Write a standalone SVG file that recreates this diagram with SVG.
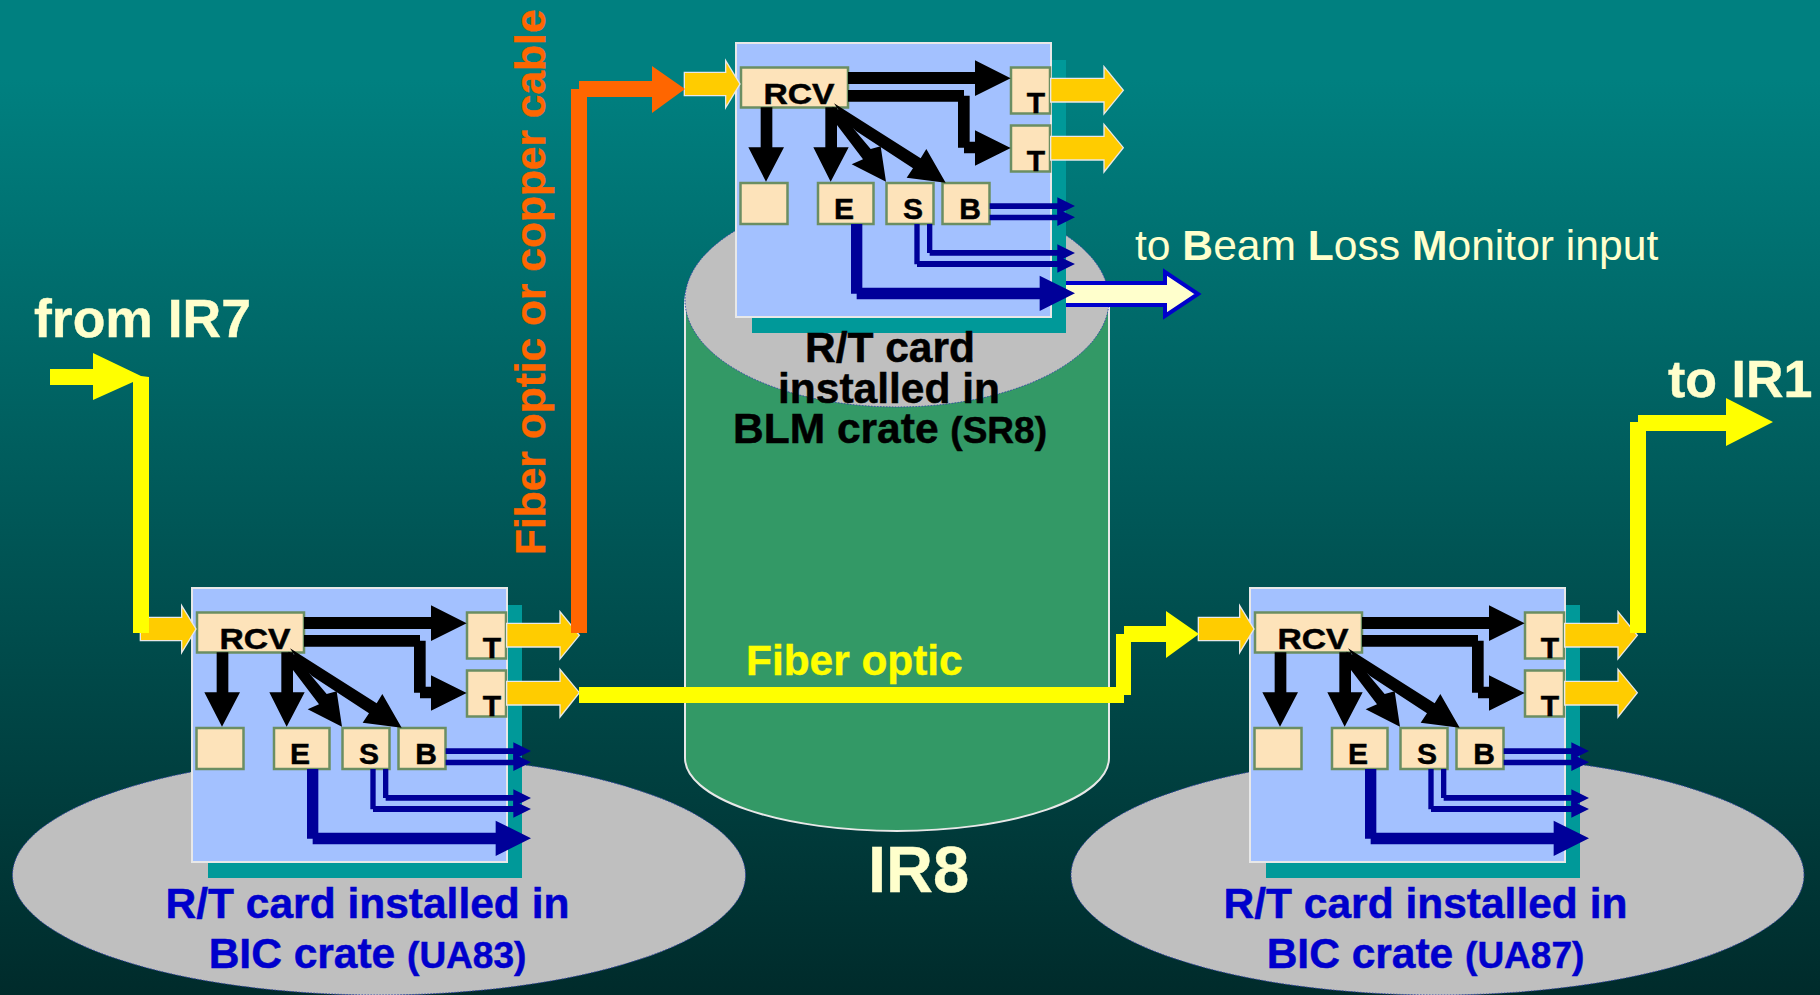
<svg xmlns="http://www.w3.org/2000/svg" width="1820" height="995" viewBox="0 0 1820 995">
<style>
text{font-family:"Liberation Sans",Arial,sans-serif;font-weight:bold}
.crate{fill:#bfbfbf;stroke:#3344aa;stroke-width:1;stroke-dasharray:1.5 1.5}
.shadow{fill:#009999}
.board{fill:#a3c1ff;stroke:#e8e8e8;stroke-width:2}
.box{fill:#fde3ba;stroke:#6b8e62;stroke-width:2.5}
.let{font-size:30px;fill:#000;stroke:#000;stroke-width:.5;text-anchor:middle}
.cream{fill:#ffffcc;stroke:#ffffcc;stroke-width:.4}
.blue{fill:#0000cc;stroke:#0000cc;stroke-width:.5;font-size:42.5px;text-anchor:middle}
.blk{fill:#000;stroke:#000;stroke-width:.5;font-size:42.5px;text-anchor:middle}
.small{font-size:37px}
.k{fill:#000}
.n{fill:#000099}
.g{fill:#ffcc00;stroke:#e8e8e8;stroke-width:4}
.y{fill:#ffff00}
.o{fill:#ff6600}
</style>
<defs>
<linearGradient id="bg" x1="0" y1="0" x2="0" y2="1">
<stop offset="0.08" stop-color="#008080"/>
<stop offset="1" stop-color="#002b2b"/>
</linearGradient>
</defs>
<rect id="background" width="1820" height="995" fill="url(#bg)"/>

<g id="ir8-cylinder">
<path d="M685,305 V758 A212,73 0 0 0 1109,758 V305 A212,107 0 0 0 685,305 Z" fill="#339966" stroke="#e8e8e8" stroke-width="2"/>
<ellipse class="crate" cx="897" cy="300" rx="212" ry="107"/>
</g>
<g id="crate-ua83"><ellipse class="crate" cx="379" cy="875" rx="366.5" ry="120"/></g>
<g id="crate-ua87"><ellipse class="crate" cx="1437.5" cy="875" rx="366.5" ry="120"/></g>

<g id="card-ua83">
<rect class="shadow" x="208" y="605" width="314" height="273"/>
<rect class="board" x="192" y="588" width="315" height="274"/>
<g id="ua83-rcv"><rect class="box" x="197" y="612.5" width="107" height="40"/><text class="let" x="255" y="649" textLength="71" lengthAdjust="spacingAndGlyphs">RCV</text></g>
<g id="ua83-t1"><rect class="box" x="467" y="612.5" width="39" height="46"/><text class="let" x="492" y="658">T</text></g>
<g id="ua83-t2"><rect class="box" x="467" y="670.5" width="39" height="46"/><text class="let" x="492" y="716">T</text></g>
<g id="ua83-blank"><rect class="box" x="196.5" y="728" width="47" height="41"/></g>
<g id="ua83-e"><rect class="box" x="274" y="728" width="55.5" height="41"/><text class="let" x="300" y="764">E</text></g>
<g id="ua83-s"><rect class="box" x="342.5" y="728" width="47" height="41"/><text class="let" x="369" y="764">S</text></g>
<g id="ua83-b"><rect class="box" x="398.5" y="728" width="47" height="41"/><text class="let" x="426" y="764">B</text></g>
</g>

<g id="card-sr8" transform="translate(544,-545)">
<rect class="shadow" x="208" y="605" width="314" height="273"/>
<rect class="board" x="192" y="588" width="315" height="274"/>
<g id="sr8-rcv"><rect class="box" x="197" y="612.5" width="107" height="40"/><text class="let" x="255" y="649" textLength="71" lengthAdjust="spacingAndGlyphs">RCV</text></g>
<g id="sr8-t1"><rect class="box" x="467" y="612.5" width="39" height="46"/><text class="let" x="492" y="658">T</text></g>
<g id="sr8-t2"><rect class="box" x="467" y="670.5" width="39" height="46"/><text class="let" x="492" y="716">T</text></g>
<g id="sr8-blank"><rect class="box" x="196.5" y="728" width="47" height="41"/></g>
<g id="sr8-e"><rect class="box" x="274" y="728" width="55.5" height="41"/><text class="let" x="300" y="764">E</text></g>
<g id="sr8-s"><rect class="box" x="342.5" y="728" width="47" height="41"/><text class="let" x="369" y="764">S</text></g>
<g id="sr8-b"><rect class="box" x="398.5" y="728" width="47" height="41"/><text class="let" x="426" y="764">B</text></g>
</g>

<g id="card-ua87" transform="translate(1058,0)">
<rect class="shadow" x="208" y="605" width="314" height="273"/>
<rect class="board" x="192" y="588" width="315" height="274"/>
<g id="ua87-rcv"><rect class="box" x="197" y="612.5" width="107" height="40"/><text class="let" x="255" y="649" textLength="71" lengthAdjust="spacingAndGlyphs">RCV</text></g>
<g id="ua87-t1"><rect class="box" x="467" y="612.5" width="39" height="46"/><text class="let" x="492" y="658">T</text></g>
<g id="ua87-t2"><rect class="box" x="467" y="670.5" width="39" height="46"/><text class="let" x="492" y="716">T</text></g>
<g id="ua87-blank"><rect class="box" x="196.5" y="728" width="47" height="41"/></g>
<g id="ua87-e"><rect class="box" x="274" y="728" width="55.5" height="41"/><text class="let" x="300" y="764">E</text></g>
<g id="ua87-s"><rect class="box" x="342.5" y="728" width="47" height="41"/><text class="let" x="369" y="764">S</text></g>
<g id="ua87-b"><rect class="box" x="398.5" y="728" width="47" height="41"/><text class="let" x="426" y="764">B</text></g>
</g>

<g id="labels">
<text class="blk" x="890" y="362">R/T card</text>
<text class="blk" x="889" y="403">installed in</text>
<text class="blk" x="890" y="443">BLM crate <tspan class="small">(SR8)</tspan></text>
<text class="blue" x="367.5" y="918">R/T card installed in</text>
<text class="blue" x="367.5" y="968">BIC crate <tspan class="small">(UA83)</tspan></text>
<text class="blue" x="1425.5" y="918">R/T card installed in</text>
<text class="blue" x="1425.5" y="968">BIC crate <tspan class="small">(UA87)</tspan></text>
<text class="cream" x="34" y="337" font-size="53.5">from IR7</text>
<text class="cream" x="1668" y="397" font-size="52">to IR1</text>
<text class="cream" x="868" y="892" font-size="65">IR8</text>
<text class="cream" x="1135" y="260" font-size="42.6" style="font-weight:normal;stroke:none">to <tspan style="font-weight:bold">B</tspan>eam <tspan style="font-weight:bold">L</tspan>oss <tspan style="font-weight:bold">M</tspan>onitor input</text>
<text x="746" y="675" font-size="42.4" fill="#ffff00" stroke="#ffff00" stroke-width=".4">Fiber optic</text>
<text transform="translate(545,555) rotate(-90)" font-size="42.5" fill="#ff6600" stroke="#ff6600" stroke-width=".4">Fiber optic or copper cable</text>
</g>

<g id="connectors">
<g id="blm-output">
<polygon points="1066,283 1165,283 1165,272 1198,294 1165,316 1165,305 1066,305" fill="#ffffcc"/>
<polyline points="1066,283 1165,283 1165,272 1198,294 1165,316 1165,305 1066,305" fill="none" stroke="#0000cc" stroke-width="4"/>
</g>
<g id="links-ua83" transform="translate(120,570) scale(.33333)">
<polygon class="g" points="61,142 185,142 185,107 228,177 185,248 185,212 61,212"/>
<polygon class="g" points="1160,160 1320,160 1320,125 1378,196 1320,267 1320,231 1160,231"/>
<polygon class="g" points="1160,334 1320,334 1320,298 1378,368 1320,441 1320,405 1160,405"/>
<polygon class="k" points="552,141 933,141 933,106 1040,160 933,213 933,177 552,177"/>
<polygon class="k" points="552,195 900,195 900,212 917,212 917,350 933,350 933,316 1040,369 933,422 933,385 900,385 900,368 882,368 882,230 552,230"/>
<polygon class="k" points="290,247 325,247 325,367 360,367 306,470 253,367 290,367"/>
<polygon class="k" points="484,247 519,247 519,367 554,367 500,470 448,367 484,367"/>
<polygon class="k" points="505,245 519,300 597,403 563,418 666,470 650,364 620,372 572,315 540,262"/>
<polygon class="k" points="510,235 770,400 787,372 845,473 728,458 747,430 575,317 540,280"/>
<polygon class="n" points="977,535 1180,535 1180,517 1233,543 1180,569 1180,552 977,552"/>
<polygon class="n" points="977,569 1180,569 1180,551 1233,577 1180,603 1180,586 977,586"/>
<polygon class="n" points="789,597 805,597 805,675 1180,675 1180,658 1233,684 1180,710 1180,692 797,692 797,684 789,684"/>
<polygon class="n" points="751,597 767,597 767,708 1180,708 1180,692 1233,717 1180,743 1180,726 759,726 759,718 751,718"/>
<polygon class="n" points="561,597 595,597 595,788 1127,788 1127,752 1233,805 1127,858 1127,823 578,823 578,806 561,806"/>
</g>
<g id="links-sr8" transform="translate(664,25) scale(.33333)">
<polygon class="g" points="61,142 185,142 185,107 228,177 185,248 185,212 61,212"/>
<polygon class="g" points="1160,160 1320,160 1320,125 1378,196 1320,267 1320,231 1160,231"/>
<polygon class="g" points="1160,334 1320,334 1320,298 1378,368 1320,441 1320,405 1160,405"/>
<polygon class="k" points="552,141 933,141 933,106 1040,160 933,213 933,177 552,177"/>
<polygon class="k" points="552,195 900,195 900,212 917,212 917,350 933,350 933,316 1040,369 933,422 933,385 900,385 900,368 882,368 882,230 552,230"/>
<polygon class="k" points="290,247 325,247 325,367 360,367 306,470 253,367 290,367"/>
<polygon class="k" points="484,247 519,247 519,367 554,367 500,470 448,367 484,367"/>
<polygon class="k" points="505,245 519,300 597,403 563,418 666,470 650,364 620,372 572,315 540,262"/>
<polygon class="k" points="510,235 770,400 787,372 845,473 728,458 747,430 575,317 540,280"/>
<polygon class="n" points="977,535 1180,535 1180,517 1233,543 1180,569 1180,552 977,552"/>
<polygon class="n" points="977,569 1180,569 1180,551 1233,577 1180,603 1180,586 977,586"/>
<polygon class="n" points="789,597 805,597 805,675 1180,675 1180,658 1233,684 1180,710 1180,692 797,692 797,684 789,684"/>
<polygon class="n" points="751,597 767,597 767,708 1180,708 1180,692 1233,717 1180,743 1180,726 759,726 759,718 751,718"/>
<polygon class="n" points="561,597 595,597 595,788 1127,788 1127,752 1233,805 1127,858 1127,823 578,823 578,806 561,806"/>
</g>
<g id="links-ua87" transform="translate(1178,570) scale(.33333)">
<polygon class="g" points="61,142 185,142 185,107 228,177 185,248 185,212 61,212"/>
<polygon class="g" points="1160,160 1320,160 1320,125 1378,196 1320,267 1320,231 1160,231"/>
<polygon class="g" points="1160,334 1320,334 1320,298 1378,368 1320,441 1320,405 1160,405"/>
<polygon class="k" points="552,141 933,141 933,106 1040,160 933,213 933,177 552,177"/>
<polygon class="k" points="552,195 900,195 900,212 917,212 917,350 933,350 933,316 1040,369 933,422 933,385 900,385 900,368 882,368 882,230 552,230"/>
<polygon class="k" points="290,247 325,247 325,367 360,367 306,470 253,367 290,367"/>
<polygon class="k" points="484,247 519,247 519,367 554,367 500,470 448,367 484,367"/>
<polygon class="k" points="505,245 519,300 597,403 563,418 666,470 650,364 620,372 572,315 540,262"/>
<polygon class="k" points="510,235 770,400 787,372 845,473 728,458 747,430 575,317 540,280"/>
<polygon class="n" points="977,535 1180,535 1180,517 1233,543 1180,569 1180,552 977,552"/>
<polygon class="n" points="977,569 1180,569 1180,551 1233,577 1180,603 1180,586 977,586"/>
<polygon class="n" points="789,597 805,597 805,675 1180,675 1180,658 1233,684 1180,710 1180,692 797,692 797,684 789,684"/>
<polygon class="n" points="751,597 767,597 767,708 1180,708 1180,692 1233,717 1180,743 1180,726 759,726 759,718 751,718"/>
<polygon class="n" points="561,597 595,597 595,788 1127,788 1127,752 1233,805 1127,858 1127,823 578,823 578,806 561,806"/>
</g>
<polygon id="from-ir7" class="y" points="50,369 93,369 93,353 141,376 149,377 149,633 133,633 133,382 93,400 93,385 50,385"/>
<polygon id="copper" class="o" points="571,633 571,89 579,89 579,81 652,81 652,66 685,89 652,113 652,97 587,97 587,633"/>
<polygon id="fiber" class="y" points="579,687 1116,687 1116,634 1124,634 1124,626 1166,626 1166,611 1199,634 1166,658 1166,642 1131,642 1131,695 1124,695 1124,703 579,703"/>
<polygon id="to-ir1" class="y" points="1630,633 1630,422 1638,422 1638,415 1726,415 1726,398 1773,422 1726,446 1726,431 1646,431 1646,633"/>
</g>
</svg>
